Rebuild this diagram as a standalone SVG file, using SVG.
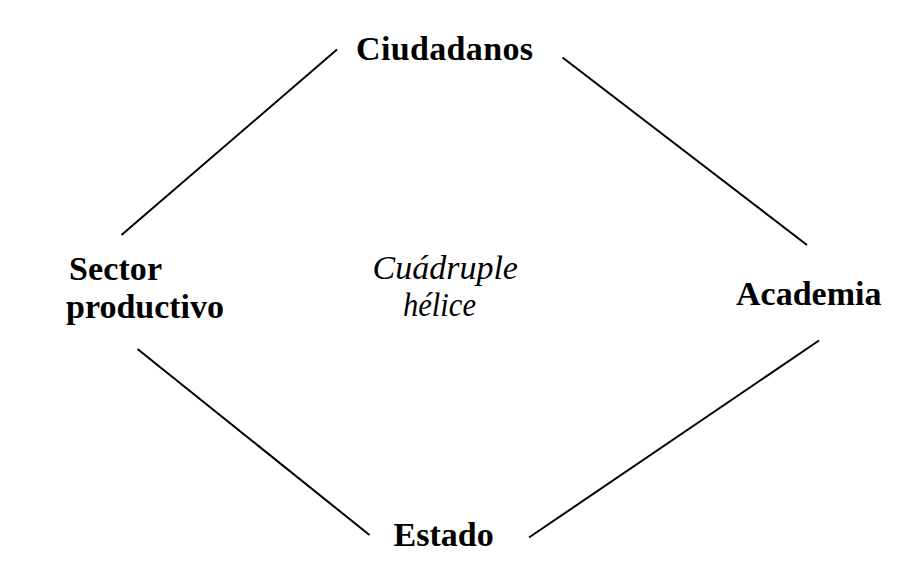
<svg xmlns="http://www.w3.org/2000/svg" width="924" height="572" viewBox="0 0 924 572">
<style>
.lbl{font-family:"Liberation Serif","Times New Roman",serif;font-size:34px;font-weight:bold;fill:#000}
.it{font-family:"Liberation Serif","Times New Roman",serif;font-size:34px;font-style:italic;fill:#000}
.conn line{stroke:#000;stroke-width:2;fill:none}
</style>
<rect width="924" height="572" fill="#fff"/>
<g id="connectors" class="conn">
<line x1="121.5" y1="235" x2="337" y2="49.5"/>
<line x1="562.5" y1="57.5" x2="807" y2="245"/>
<line x1="137.5" y1="349" x2="369.5" y2="535"/>
<line x1="529" y1="537.5" x2="819" y2="340.5"/>
</g>
<g id="ciudadanos"><text class="lbl" x="356" y="59.5" textLength="177" lengthAdjust="spacing">Ciudadanos</text></g>
<g id="sector"><text class="lbl" x="69" y="280" textLength="93" lengthAdjust="spacing">Sector</text><text class="lbl" x="66" y="318">productivo</text></g>
<g id="academia"><text class="lbl" x="736" y="305">Academia</text></g>
<g id="estado"><text class="lbl" x="393.5" y="545.5">Estado</text></g>
<g id="centro"><text class="it" x="372.5" y="278.5">Cuádruple</text><text class="it" x="403" y="315.5" textLength="73" lengthAdjust="spacingAndGlyphs">hélice</text></g>
</svg>
